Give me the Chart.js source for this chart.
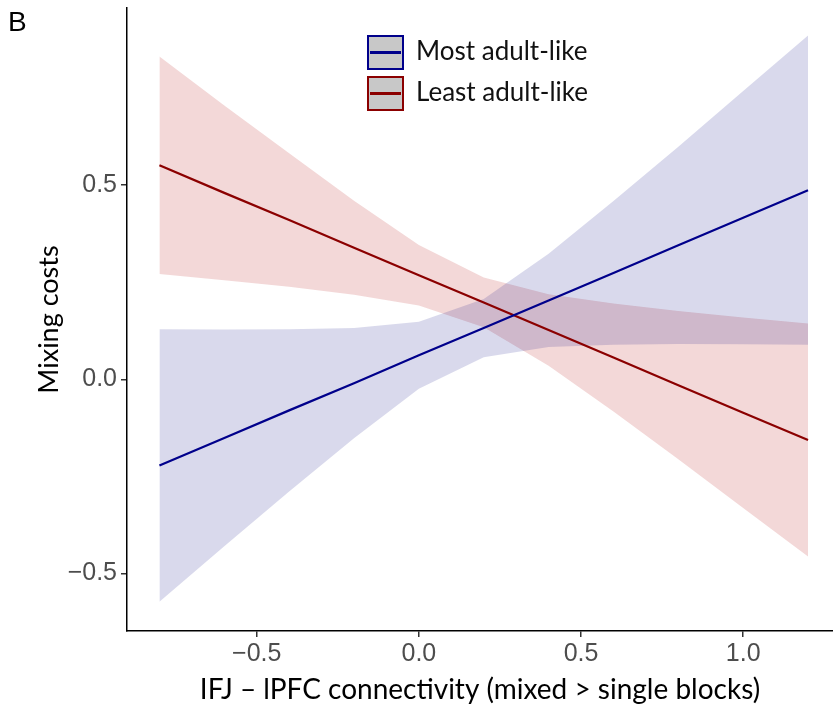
<!DOCTYPE html>
<html>
<head>
<meta charset="utf-8">
<script src="https://cdn.jsdelivr.net/npm/chart.js@4.4.1/dist/chart.umd.min.js"></script>
<style>
  html, body { margin: 0; padding: 0; background: #fff; }
  #wrap { width: 833px; height: 709px; position: relative; }
</style>
</head>
<body>
<div id="wrap"><canvas id="effectChart"></canvas></div>
<script>
// connectivity values where the fit was evaluated
const xVals = [-0.8, -0.6, -0.4, -0.2, 0, 0.2, 0.4, 0.6, 0.8, 1.0, 1.2];

// Most adult-like
const mostFit   = [-0.222, -0.151, -0.080, -0.010, 0.062, 0.132, 0.203, 0.274, 0.345, 0.416, 0.487];
const mostUpper = [0.129, 0.128, 0.129, 0.132, 0.148, 0.207, 0.323, 0.459, 0.599, 0.742, 0.885];
const mostLower = [-0.573, -0.430, -0.289, -0.152, -0.024, 0.057, 0.083, 0.089, 0.091, 0.090, 0.089];

// Least adult-like
const leastFit   = [0.551, 0.480, 0.410, 0.339, 0.268, 0.198, 0.127, 0.056, -0.015, -0.086, -0.156];
const leastUpper = [0.831, 0.705, 0.582, 0.460, 0.346, 0.262, 0.219, 0.195, 0.176, 0.159, 0.144];
const leastLower = [0.271, 0.255, 0.238, 0.218, 0.190, 0.134, 0.035, -0.083, -0.206, -0.331, -0.456];

const xTicks = [-0.5, 0, 0.5, 1.0];
const yTicks = [-0.5, 0, 0.5];
const seriesNames = ['Most adult-like', 'Least adult-like'];

const blueLine = '#00008B';
const redLine = '#8B0000';
const blueBand = 'rgba(0, 0, 128, 0.15)';
const redBand = 'rgba(180, 10, 10, 0.16)';

function pts(ys) {
  return xVals.map((x, i) => ({ x, y: ys[i] }));
}

function fmt(v) {
  const s = Math.abs(v).toFixed(1);
  return v < 0 ? '\u2212' + s : s;
}

const legendBoxes = {
  id: 'legendBoxes',
  afterDraw(chart) {
    const ctx = chart.ctx;
    const rows = [
      { name: seriesNames[0], color: blueLine, top: 36 },
      { name: seriesNames[1], color: redLine, top: 77 }
    ];
    ctx.save();
    rows.forEach(r => {
      ctx.fillStyle = '#c8c8c8';
      ctx.fillRect(368, r.top, 35, 33);
      ctx.strokeStyle = r.color;
      ctx.lineWidth = 2;
      ctx.strokeRect(368, r.top, 35, 33);
      ctx.lineWidth = 3;
      ctx.beginPath();
      ctx.moveTo(370, r.top + 16.5);
      ctx.lineTo(401, r.top + 16.5);
      ctx.stroke();
      ctx.fillStyle = '#111';
      ctx.font = '26px Lato';
      ctx.textBaseline = 'middle';
      ctx.fillText(r.name, 416, r.top + 16);
    });
    ctx.font = '28px "Liberation Sans"';
    ctx.fillStyle = '#000';
    ctx.textBaseline = 'middle';
    ctx.fillText('B', 8, 23);
    ctx.restore();
  }
};

const axisFont = { family: '"Liberation Sans", Arial, sans-serif', size: 25 };

new Chart(document.getElementById('effectChart'), {
  type: 'line',
  data: {
    datasets: [
      { data: pts(mostFit), borderColor: blueLine, borderWidth: 2.2, pointRadius: 0, fill: false, order: 0 },
      { data: pts(leastFit), borderColor: redLine, borderWidth: 2.2, pointRadius: 0, fill: false, order: 0 },
      { data: pts(leastUpper), borderWidth: 0, pointRadius: 0, fill: '+1', backgroundColor: redBand, order: 2 },
      { data: pts(leastLower), borderWidth: 0, pointRadius: 0, fill: false, order: 2 },
      { data: pts(mostUpper), borderWidth: 0, pointRadius: 0, fill: '+1', backgroundColor: blueBand, order: 1 },
      { data: pts(mostLower), borderWidth: 0, pointRadius: 0, fill: false, order: 1 }
    ]
  },
  options: {
    responsive: true,
    maintainAspectRatio: false,
    devicePixelRatio: 1,
    animation: false,
    layout: { padding: { top: 8, left: 0, right: 0, bottom: 0 } },
    elements: { line: { tension: 0 } },
    plugins: { legend: { display: false }, tooltip: { enabled: false } },
    scales: {
      x: {
        type: 'linear',
        min: -0.9,
        max: 1.277,
        afterBuildTicks: s => { s.ticks = xTicks.map(v => ({ value: v })); },
        afterFit: s => { s.height = 78; s.paddingLeft = 0; s.paddingRight = 0; },
        border: { display: true, color: '#000', width: 1.5 },
        grid: { display: true, drawOnChartArea: false, drawTicks: true, tickLength: 6, tickColor: '#333', lineWidth: 1.5 },
        ticks: { color: '#4d4d4d', font: axisFont, padding: 2, maxRotation: 0, callback: v => fmt(v) },
        title: { display: true, text: 'IFJ \u2013 lPFC connectivity (mixed > single blocks)', color: '#000', font: { family: 'Lato, sans-serif', size: 28 }, padding: { top: 0, bottom: 2 } }
      },
      y: {
        type: 'linear',
        min: -0.648,
        max: 0.956,
        afterBuildTicks: s => { s.ticks = yTicks.map(v => ({ value: v })); },
        afterFit: s => { s.width = 127; s.paddingTop = 0; s.paddingBottom = 0; },
        border: { display: true, color: '#000', width: 1.5 },
        grid: { display: true, drawOnChartArea: false, drawTicks: true, tickLength: 6, tickColor: '#333', lineWidth: 1.5 },
        ticks: { color: '#4d4d4d', font: axisFont, padding: 4, callback: v => fmt(v) },
        title: { display: true, text: 'Mixing costs', color: '#000', font: { family: 'Lato, sans-serif', size: 27 }, padding: { top: 33, bottom: 0 } }
      }
    }
  },
  plugins: [legendBoxes]
});
</script>
</body>
</html>
